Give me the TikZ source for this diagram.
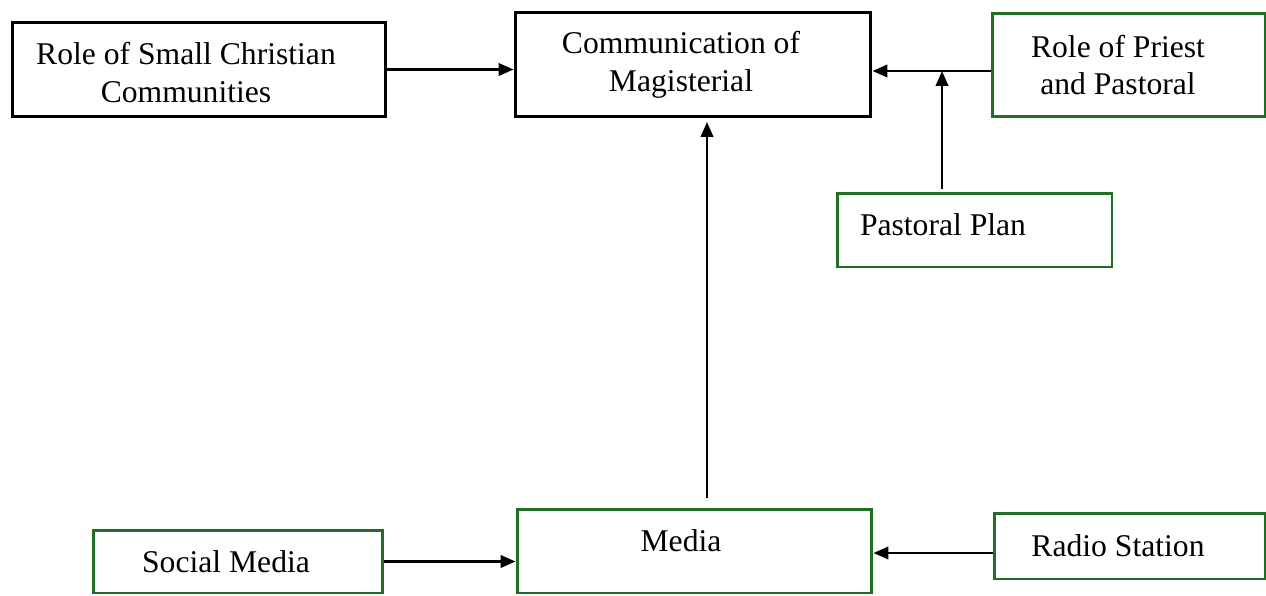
\documentclass[tikz,border=0pt]{standalone}
\usepackage{fontspec}
\setmainfont{Liberation Serif}
\usetikzlibrary{arrows.meta}
\definecolor{boxgreen}{RGB}{31,110,36}

\begin{document}
\begin{tikzpicture}[x=0.02cm,y=-0.02cm,
   every node/.style={font=\fontsize{18}{21.5}\selectfont,align=center},
   blackbox/.style={draw=black,line width=1.7pt,inner sep=0pt},
   greenbox/.style={draw=boxgreen,line width=1.7pt,inner sep=0pt},
   arr/.style={line width=1.3pt,-{Triangle[length=0.3cm,width=0.25cm]}}]
   \useasboundingbox (0,0) rectangle (1266,595);
   % top row
   \node[blackbox,minimum width=7.48cm,minimum height=1.9cm,
      label={[xshift=-0.26cm,yshift=-0.06cm]center:{Role of Small Christian\\Communities}}] (scc) at (199,69.5) {};
   \node[blackbox,minimum width=7.12cm,minimum height=2.1cm,
      label={[xshift=-0.24cm]center:{Communication of\\Magisterial}}] (comm) at (693,64.5) {};
   \node[greenbox,minimum width=5.46cm,minimum height=2.08cm,
      label={[xshift=-0.21cm]center:{Role of Priest\\and Pastoral}}] (priest) at (1128.5,65) {};
   \node[greenbox,minimum width=5.5cm,minimum height=1.48cm,
      label={[xshift=-0.63cm,yshift=0.1cm]center:Pastoral Plan}] (plan) at (974.5,230) {};
   % bottom row
   \node[greenbox,minimum width=7.1cm,minimum height=1.68cm,
      label={[xshift=-0.27cm,yshift=0.2cm]center:Media}] (media) at (694.5,551) {};
   \node[greenbox,minimum width=5.8cm,minimum height=1.26cm,
      label={[xshift=-0.24cm]center:Social Media}] (social) at (238,561.5) {};
   \node[greenbox,minimum width=5.42cm,minimum height=1.32cm,
      label={[xshift=-0.23cm]center:Radio Station}] (radio) at (1129.5,546) {};
   \coordinate (pj) at (942,71);
   \coordinate (mu) at (707,498);
   \coordinate (rj) at (990,553);
   % arrows
   \draw[arr] (scc) -- (scc -| comm.west);
   \draw[arr] (priest.west |- pj) -- (comm.east |- pj);
   \draw[arr] (plan.north -| pj) ++(0,-3) -- (pj);
   \draw[arr,shorten >=2pt] (mu) -- (mu |- comm.south);
   \draw[arr] (social) -- (social -| media.west);
   \draw[arr] (radio.west |- rj) -- (media.east |- rj);
\end{tikzpicture}
\end{document}
